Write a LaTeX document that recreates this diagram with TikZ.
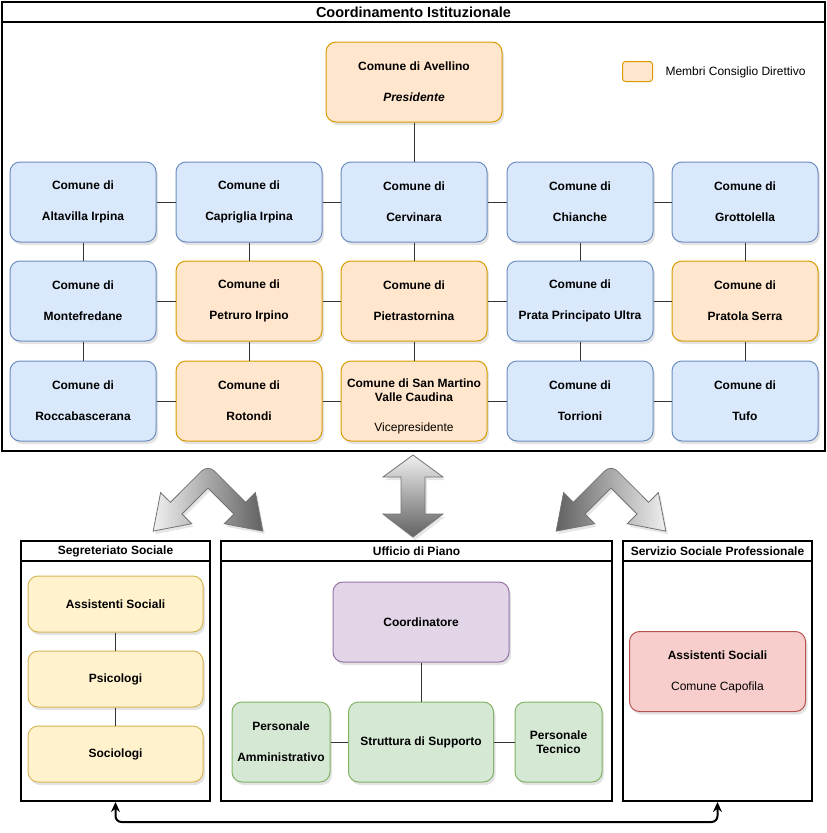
\documentclass[tikz,border=0pt]{standalone}
\usepackage{fontspec}
\setmainfont{Liberation Sans}
\usetikzlibrary{shadows,calc,arrows.meta}

\definecolor{bluefill}{HTML}{DAE8FC}
\definecolor{blueline}{HTML}{6C8EBF}
\definecolor{orangefill}{HTML}{FFE6CC}
\definecolor{orangeline}{HTML}{D79B00}
\definecolor{yellowfill}{HTML}{FFF2CC}
\definecolor{yellowline}{HTML}{D6B656}
\definecolor{purplefill}{HTML}{E1D5E7}
\definecolor{purpleline}{HTML}{9673A6}
\definecolor{greenfill}{HTML}{D5E8D4}
\definecolor{greenline}{HTML}{82B366}
\definecolor{redfill}{HTML}{F8CECC}
\definecolor{redline}{HTML}{B85450}

\begin{document}
\begin{tikzpicture}[x=1pt,y=-1pt,
  font=\fontsize{12pt}{14.4pt}\selectfont,
  box/.style={draw,line width=1pt,rounded corners=10pt,align=center,inner sep=2pt,
    font=\fontsize{12pt}{14.4pt}\selectfont\bfseries,
    drop shadow={opacity=0.22,shadow xshift=2pt,shadow yshift=-3pt}},
  comune/.style={box,fill=bluefill,draw=blueline,minimum width=146pt,minimum height=80pt},
  membro/.style={box,fill=orangefill,draw=orangeline,minimum width=146pt,minimum height=80pt},
  segbox/.style={box,fill=yellowfill,draw=yellowline,minimum width=175pt,minimum height=56pt},
  pianobox/.style={box,fill=greenfill,draw=greenline,minimum height=80pt},
  frame/.style={draw,line width=2pt,inner sep=0pt},
  framebar/.style={line width=2pt},
  title/.style={font=\fontsize{12pt}{14.4pt}\selectfont\bfseries},
  link/.style={draw=black!80,line width=1pt},
  bigarrow/.style={draw=black!55,line width=0.8pt,
    drop shadow={opacity=0.2,shadow xshift=2pt,shadow yshift=-3pt}},
  backlink/.style={line width=2pt,rounded corners=6pt,{Stealth[length=10pt,width=9pt]}-{Stealth[length=10pt,width=9pt]}}]
\useasboundingbox (0,0) rectangle (827,833);

\node[frame,minimum width=823pt,minimum height=449pt] (coord) at (413.5,226.5) {};
\draw[framebar] ($(coord.north west)+(0,21)$) -- ($(coord.north east)+(0,21)$);
\node[title,font=\fontsize{14.5pt}{17pt}\selectfont\bfseries] (coordT) at ($(coord.north)+(0,11.5)$) {Coordinamento Istituzionale};

\node[membro,minimum width=176pt] (ave) at (414,82) {Comune di Avellino\\[16.6pt]\textit{Presidente}};
\node[draw=orangeline,fill=orangefill,line width=1pt,rounded corners=3pt,minimum width=30pt,minimum height=20pt] (leg) at (637.5,71.5) {};
\node[anchor=west] (legT) at (662,72) {Membri Consiglio Direttivo};

\node[comune] (alt) at (83,202) {Comune di\\[16.6pt]Altavilla Irpina};
\node[comune] (cap) at (249,202) {Comune di\\[16.6pt]Capriglia Irpina};
\node[comune] (cer) at (414,202) {Comune di\\[16.6pt]Cervinara};
\node[comune] (chi) at (580,202) {Comune di\\[16.6pt]Chianche};
\node[comune] (gro) at (745,202) {Comune di\\[16.6pt]Grottolella};

\node[comune] (mon) at (83,301) {Comune di\\[16.6pt]Montefredane};
\node[membro] (pet) at (249,301) {Comune di\\[16.6pt]Petruro Irpino};
\node[membro] (pie) at (414,301) {Comune di\\[16.6pt]Pietrastornina};
\node[comune] (pra) at (580,301) {Comune di\\[16.6pt]Prata Principato Ultra};
\node[membro] (prs) at (745,301) {Comune di\\[16.6pt]Pratola Serra};

\node[comune] (roc) at (83,401) {Comune di\\[16.6pt]Roccabascerana};
\node[membro] (rot) at (249,401) {Comune di\\[16.6pt]Rotondi};
\node[membro] (smv) at (414,401) {\rule{0pt}{19pt}Comune di San Martino\\Valle Caudina\\[15pt]\mdseries Vicepresidente};
\node[comune] (tor) at (580,401) {Comune di\\[16.6pt]Torrioni};
\node[comune] (tuf) at (745,401) {Comune di\\[16.6pt]Tufo};

\draw[link] (ave) -- (cer);
\draw[link] (alt) -- (cap) (cap) -- (cer) (cer) -- (chi) (chi) -- (gro);
\draw[link] (mon) -- (pet) (pet) -- (pie) (pie) -- (pra) (pra) -- (prs);
\draw[link] (roc) -- (rot) (rot) -- (smv) (smv) -- (tor) (tor) -- (tuf);
\draw[link] (alt) -- (mon) (cap) -- (pet) (cer) -- (pie) (chi) -- (pra) (gro) -- (prs);
\draw[link] (mon) -- (roc) (pet) -- (rot) (pie) -- (smv) (pra) -- (tor) (prs) -- (tuf);

\draw[bigarrow,left color=black!6,right color=black!62]
  (170.4,502.3) [rounded corners=9pt] -- (208,464.6) [sharp corners] -- (245.6,502.3)
  -- (255.4,492.6) -- (262.8,531.1) -- (224.3,523.7) -- (234,514) -- (208,488)
  -- (182,514) -- (191.7,523.7) -- (153.2,531.1) -- (160.6,492.6) -- cycle;
\draw[bigarrow,top color=black!6,bottom color=black!62]
  (413,455) -- (443,477) -- (425,477) -- (425,514) -- (443,514) -- (413,537)
  -- (383,514) -- (401,514) -- (401,477) -- (383,477) -- cycle;
\draw[bigarrow,left color=black!62,right color=black!6]
  (573.4,502.3) [rounded corners=9pt] -- (611,464.6) [sharp corners] -- (648.6,502.3)
  -- (658.4,492.6) -- (665.8,531.1) -- (627.3,523.7) -- (637,514) -- (611,488)
  -- (585,514) -- (594.7,523.7) -- (556.2,531.1) -- (563.6,492.6) -- cycle;

\node[frame,minimum width=189pt,minimum height=260pt] (segr) at (115.5,671) {};
\draw[framebar] ($(segr.north west)+(0,21)$) -- ($(segr.north east)+(0,21)$);
\node[title] (segrT) at ($(segr.north)+(0,11)$) {Segreteriato Sociale};
\node[frame,minimum width=391pt,minimum height=260pt] (uff) at (416.5,671) {};
\draw[framebar] ($(uff.north west)+(0,21)$) -- ($(uff.north east)+(0,21)$);
\node[title] (uffT) at ($(uff.north)+(0,11)$) {Ufficio di Piano};
\node[frame,minimum width=189pt,minimum height=260pt] (serv) at (717.5,671) {};
\draw[framebar] ($(serv.north west)+(0,21)$) -- ($(serv.north east)+(0,21)$);
\node[title] (servT) at ($(serv.north)+(0,11)$) {Servizio Sociale Professionale};

\node[segbox] (ass) at (115.5,604) {Assistenti Sociali};
\node[segbox] (psi) at (115.5,679) {Psicologi};
\node[segbox] (soc) at (115.5,754) {Sociologi};
\draw[link] (ass) -- (psi) (psi) -- (soc);

\node[box,fill=purplefill,draw=purpleline,minimum width=176pt,minimum height=80pt] (cor) at (421,622) {Coordinatore};
\node[pianobox,minimum width=98pt] (amm) at (281,742) {Personale\\[16.6pt]Amministrativo};
\node[pianobox,minimum width=145pt] (sup) at (421,742) {Struttura di Supporto};
\node[pianobox,minimum width=87pt] (tec) at (558.5,742) {Personale\\Tecnico};
\draw[link] (cor) -- (sup) (amm) -- (sup) (sup) -- (tec);

\node[box,fill=redfill,draw=redline,minimum width=176pt,minimum height=80pt] (asr) at (717.5,671.5) {Assistenti Sociali\\[16.6pt]\mdseries Comune Capofila};

\draw[backlink] (segr.south) -- ++(0,20) -| (serv.south);
\end{tikzpicture}
\end{document}
